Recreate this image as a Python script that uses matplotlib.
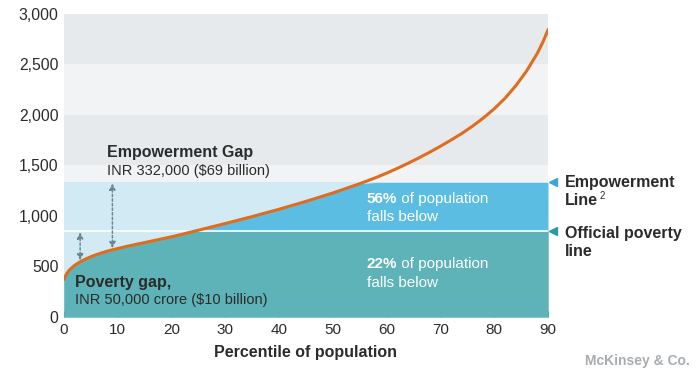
import numpy as np
import matplotlib
matplotlib.use("Agg")
import matplotlib.pyplot as plt

plt.rcParams['font.family'] = ['Liberation Sans', 'DejaVu Sans']

# Data
percentile = [0, 0.5, 1, 2, 3, 4, 5, 6, 7, 8, 9, 10, 12, 15, 18, 20, 22, 25, 30, 35, 40,
              45, 50, 55, 58, 60, 62, 64, 66, 68, 70, 72, 74, 76, 78, 80, 82, 84, 86,
              88, 89, 90]
spend = [375, 428, 465, 512, 546, 573, 596, 616, 634, 650, 664, 677, 702, 736, 770, 793,
         818, 858, 924, 993, 1065, 1143, 1226, 1318, 1378, 1422, 1470, 1520, 1573, 1629,
         1688, 1750, 1815, 1888, 1968, 2058, 2162, 2285, 2430, 2605, 2712, 2837]
empowerment_line = 1330
poverty_line = 848
x_ticks = [0, 10, 20, 30, 40, 50, 60, 70, 80, 90]
y_ticks = [0, 500, 1000, 1500, 2000, 2500, 3000]
y_ticklabels = ['0', '500', '1,000', '1,500', '2,000', '2,500', '3,000']

x = np.array(percentile, dtype=float)
y = np.array(spend, dtype=float)

fig = plt.figure(figsize=(6.98, 3.68), dpi=100)
ax = fig.add_axes([64/698, 51/368, 484/698, 303.5/368])
ax.set_xlim(0, 90)
ax.set_ylim(0, 3000)

# background bands
band_dark = '#e7eaec'
band_light = '#f1f3f4'
for lo, hi, c in [(2500, 3000, band_dark), (2000, 2500, band_light),
                  (1500, 2000, band_dark), (1000, 1500, band_light)]:
    ax.axhspan(lo, hi, color=c, lw=0, zorder=0)

pale = '#d2eaf3'
mid = '#5bbde1'
teal = '#5db3b7'
ax.fill_between(x, 0, empowerment_line, color=pale, lw=0, zorder=1)
ax.fill_between(x, 0, np.minimum(y, empowerment_line), color=mid, lw=0, zorder=2)
ax.fill_between(x, 0, np.minimum(y, poverty_line), color=teal, lw=0, zorder=3)
ax.axhline(poverty_line, color='white', lw=1.2, zorder=4)

ax.plot(x, y, color='#e06c1f', lw=2.2, zorder=6, solid_joinstyle='round')

# gap arrows
arrow_c = '#6b8796'
def gap_arrow(xp, y0, y1):
    ax.annotate('', xy=(xp, y0), xytext=(xp, y1),
                arrowprops=dict(arrowstyle='<|-|>', color=arrow_c, lw=1.1,
                                linestyle=(0, (1.5, 1.5)), mutation_scale=9,
                                shrinkA=0, shrinkB=0), zorder=5)
gap_arrow(3, 560, poverty_line - 10)
gap_arrow(9, 680, empowerment_line - 10)

# texts
dark = '#2b2b2b'
ax.text(8, 1630, 'Empowerment Gap', fontsize=11.5, fontweight='bold', color=dark,
        va='center', zorder=7)
ax.text(8, 1445, 'INR 332,000 ($69 billion)', fontsize=10.5, color=dark,
        va='center', zorder=7)
ax.text(2, 345, 'Poverty gap,', fontsize=11.5, fontweight='bold', color=dark,
        va='center', zorder=7)
ax.text(2, 170, 'INR 50,000 crore ($10 billion)', fontsize=10.5, color=dark,
        va='center', zorder=7)

for yy, pct in [(1170, '56%'), (520, '22%')]:
    t = ax.text(56.3, yy, pct, fontsize=11, fontweight='bold', color='white', va='center', zorder=7)
    ax.annotate(' of population', xycoords=t, xy=(1, 0.5), va='center', ha='left',
                fontsize=11, color='white', zorder=7)
    ax.text(56.3, yy - 185, 'falls below', fontsize=11, color='white', va='center', zorder=7)

# right side markers and labels
ax.plot([90.9], [empowerment_line], marker='<', color='#3aa7da', ms=6, clip_on=False, zorder=8)
ax.plot([90.9], [poverty_line], marker='<', color='#2a9aa0', ms=6, clip_on=False, zorder=8)
ax.text(93.2, empowerment_line, 'Empowerment', fontsize=11.5, fontweight='bold', color=dark,
        va='center', clip_on=False)
tl = ax.text(93.2, empowerment_line - 180, 'Line', fontsize=11.5, fontweight='bold',
             color=dark, va='center', clip_on=False)
ax.annotate('2', xycoords=tl, xy=(1, 0.8), xytext=(0.8, 0), textcoords='offset points',
            fontsize=7, color=dark, va='center', ha='left')
ax.text(93.2, poverty_line - 25, 'Official poverty', fontsize=11.5, fontweight='bold',
        color=dark, va='center', clip_on=False)
ax.text(93.2, poverty_line - 200, 'line', fontsize=11.5, fontweight='bold',
        color=dark, va='center', clip_on=False)

fig.text(690/698, 1 - 361/368, 'McKinsey & Co.', fontsize=10, fontweight='bold',
         color='#a9adb0', ha='right', va='center')

# axes styling
for s in ax.spines.values():
    s.set_visible(False)
ax.set_xticks(x_ticks)
ax.set_yticks(y_ticks)
ax.set_yticklabels(y_ticklabels)
ax.tick_params(axis='x', direction='in', length=4, color='#3f8b90', labelsize=11,
               labelcolor=dark, pad=4)
ax.tick_params(axis='y', length=0, labelsize=11.3, labelcolor=dark, pad=4)
ax.set_xlabel('Percentile of population', fontsize=11.5, fontweight='bold', color=dark,
              labelpad=6)

fig.savefig('out.png', dpi=100)
